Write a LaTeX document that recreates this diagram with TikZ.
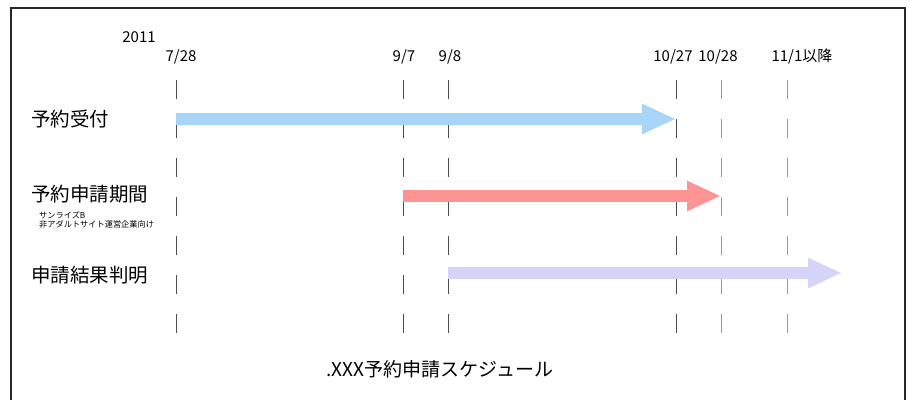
\documentclass[tikz,border=0pt]{standalone}
\usepackage{fontspec}
\setmainfont{Noto Sans CJK JP}
\usetikzlibrary{arrows.meta}
\definecolor{uketsukeblue}{HTML}{A8D4F8}
\definecolor{shinseired}{HTML}{FC9494}
\definecolor{kekkalav}{HTML}{D4D4F8}

\begin{document}
\begin{tikzpicture}[x=1pt,y=-1pt,
    datefont/.style={inner sep=0pt, font=\fontsize{15}{17}\selectfont},
    rowlabel/.style={anchor=west, inner sep=0pt, font=\fontsize{19.5}{21}\selectfont},
    guide/.style={line width=0.7pt, black!70, dash pattern=on 19pt off 20pt},
    guidelight/.style={guide, line width=0.9pt, black!40},
    bar/.style={line width=12pt, -{Triangle[length=34pt,width=28pt]}}]
    \useasboundingbox (0,0) rectangle (910,399);

    % Frame, open at the bottom
    \draw[line width=1.6pt, black!85] (11,410) -- (11,8) -- (905,8) -- (905,410);

    % Year and dates
    \node[datefont] (year) at (139,37) {2011};
    \node[datefont] (d0728) at (181,57) {7/28};
    \node[datefont] (d0907) at (404,57) {9/7};
    \node[datefont] (d0908) at (450,57) {9/8};
    \node[datefont] (d1027) at (673,57) {10/27};
    \node[datefont] (d1028) at (718,57) {10/28};
    \node[datefont] (d1101) at (802,57) {11/1以降};

    % Top ends of the dashed guides
    \coordinate (g0728) at (176,80);
    \coordinate (g0907) at (403,80);
    \coordinate (g0908) at (448,80);
    \coordinate (g1027) at (676,80);
    \coordinate (g1028) at (721,80);
    \coordinate (g1101) at (787,80);
    \coordinate (gend) at (842,80);

    % Dashed guides
    \foreach \g in {g0728,g0907,g0908,g1027}
        \draw[guide] (\g) -- ++(0,254);
    \foreach \g in {g1028,g1101}
        \draw[guidelight] (\g) -- ++(0,254);

    % Row labels
    \node[rowlabel] (uketsuke) at (31,119) {予約受付};
    \node[rowlabel] (kikan) at (31,194) {予約申請期間};
    \node[anchor=base west, inner sep=0pt, align=left,
          font=\fontsize{8.2}{9}\selectfont] (sunrise) at (39,227)
          {サンライズB\\非アダルトサイト運営企業向け};
    \node[rowlabel] (kekka) at (31,275) {申請結果判明};

    % Bar rows
    \coordinate (r1) at (0,119);
    \coordinate (r2) at (0,196);
    \coordinate (r3) at (0,273);

    % Period arrows
    \draw[bar, uketsukeblue] (g0728 |- r1) -- (g1027 |- r1);
    \draw[bar, shinseired] (g0907 |- r2) -- (g1028 |- r2);
    \draw[bar, kekkalav] (g0908 |- r3) -- (gend |- r3);

    % Title
    \node[inner sep=0pt, font=\fontsize{19}{21}\selectfont] (title) at (440,369)
        {.XXX予約申請スケジュール};
\end{tikzpicture}
\end{document}
